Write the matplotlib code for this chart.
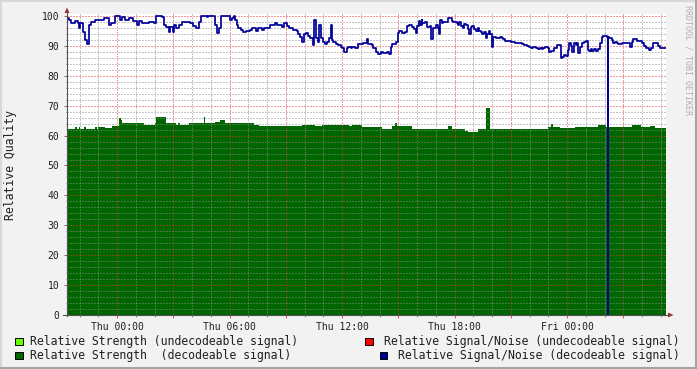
# RRDtool style "Relative Quality" graph

import matplotlib.pyplot as plt
from matplotlib.patches import Rectangle, Polygon
from matplotlib.lines import Line2D

plt.rcParams['font.family'] = 'DejaVu Sans Mono'

# time axis: hours relative to Thu 00:00, graph runs Wed 21:20 .. Fri 05:17
t_start = -8 / 3
t_end = 29.28

# Relative Signal/Noise (decodeable signal), step breakpoints
snr_t = [-2.67, -2.58, -2.44, -2.22, -2.08, -2.01, -1.96, -1.83, -1.72, -1.60,
         -1.48, -1.39, -1.16, -0.98, -0.71, -0.44, -0.30, -0.12, 0.18, 0.27,
         0.41, 0.62, 0.84, 1.07, 1.19, 1.33, 1.69, 1.96, 2.08, 2.40,
         2.49, 2.61, 2.76, 2.84, 2.99, 3.02, 3.15, 3.29, 3.47, 3.89,
         4.07, 4.21, 4.37, 4.46, 4.78, 4.87, 5.23, 5.32, 5.46, 5.53,
         6.03, 6.12, 6.24, 6.29, 6.38, 6.47, 6.61, 6.74, 6.86, 7.09,
         7.18, 7.40, 7.50, 7.72, 7.86, 8.16, 8.43, 8.52, 8.78, 8.92,
         9.05, 9.17, 9.40, 9.58, 9.67, 9.76, 9.88, 9.97, 10.06, 10.20,
         10.29, 10.47, 10.52, 10.60, 10.74, 10.79, 10.86, 11.00, 11.09, 11.18,
         11.31, 11.40, 11.45, 11.54, 11.66, 11.80, 11.93, 12.02, 12.12, 12.25,
         12.34, 12.48, 12.55, 12.69, 12.87, 13.14, 13.32, 13.40, 13.58, 13.67,
         13.80, 13.94, 14.08, 14.20, 14.38, 14.51, 14.61, 14.68, 14.86, 14.97,
         15.06, 15.18, 15.36, 15.45, 15.57, 15.75, 15.86, 15.93, 16.02, 16.11,
         16.16, 16.25, 16.28, 16.43, 16.52, 16.69, 16.75, 16.87, 17.00, 17.10,
         17.17, 17.23, 17.32, 17.40, 17.64, 17.85, 17.94, 18.12, 18.20, 18.26,
         18.35, 18.44, 18.52, 18.60, 18.70, 18.79, 18.86, 18.95, 19.06, 19.13,
         19.24, 19.32, 19.40, 19.48, 19.59, 19.66, 19.75, 19.84, 19.91, 19.98,
         20.07, 20.20, 20.43, 20.52, 20.60, 20.69, 21.01, 21.23, 21.40, 21.49,
         21.58, 21.72, 21.85, 21.97, 22.08, 22.20, 22.33, 22.47, 22.56, 22.65,
         22.74, 22.83, 22.97, 23.04, 23.15, 23.32, 23.45, 23.66, 23.72, 23.86,
         23.93, 24.04, 24.12, 24.21, 24.28, 24.37, 24.46, 24.55, 24.60, 24.69,
         24.78, 24.92, 25.00, 25.14, 25.19, 25.28, 25.35, 25.46, 25.55, 25.67,
         25.76, 25.85, 25.94, 26.12, 26.17, 26.20, 26.24, 26.38, 26.47, 26.56,
         26.65, 26.74, 26.92, 27.04, 27.36, 27.45, 27.54, 27.72, 27.98, 28.12,
         28.21, 28.37, 28.48, 28.60, 28.73, 28.87, 28.96]
snr_v = [99.2, 98.7, 97.8, 98.3, 97.8, 95.9, 97.8, 94.5, 92.0, 90.5,
         97.0, 98.1, 98.6, 98.8, 99.2, 97.0, 97.8, 100.0, 98.7, 99.5,
         98.7, 99.2, 98.4, 97.0, 98.4, 97.8, 98.1, 97.8, 100.0, 99.7,
         97.0, 96.4, 94.7, 96.4, 94.7, 97.0, 95.9, 97.0, 98.1, 97.6,
         96.7, 95.9, 98.1, 100.0, 99.8, 100.0, 97.0, 94.2, 95.9, 100.0,
         98.7, 99.2, 100.0, 98.7, 97.0, 95.9, 95.4, 94.5, 95.0, 95.4,
         96.0, 95.0, 96.0, 95.4, 96.0, 97.1, 97.8, 97.1, 96.4, 97.6,
         96.7, 96.0, 95.4, 95.0, 93.9, 92.9, 91.4, 93.9, 94.4, 93.4,
         92.5, 90.3, 98.7, 92.5, 91.4, 97.0, 92.5, 91.4, 90.5, 91.4,
         92.5, 97.0, 92.0, 91.4, 90.8, 90.3, 89.7, 89.2, 88.1, 89.2,
         89.7, 89.2, 89.7, 89.2, 90.8, 91.1, 92.2, 90.8, 90.3, 89.2,
         88.1, 87.2, 88.1, 87.6, 88.1, 87.2, 89.7, 90.8, 91.4, 94.2,
         95.0, 94.4, 94.7, 96.6, 97.0, 96.4, 95.5, 94.4, 96.6, 98.3,
         97.0, 98.7, 97.6, 98.1, 96.4, 96.7, 92.2, 95.9, 97.0, 95.9,
         94.0, 98.7, 97.6, 98.1, 99.2, 98.3, 98.1, 97.8, 97.0, 98.1,
         96.7, 95.9, 97.3, 97.0, 95.5, 94.0, 96.4, 96.7, 95.5, 95.1,
         95.9, 95.1, 94.8, 94.0, 94.8, 92.5, 94.0, 95.1, 94.0, 89.7,
         93.1, 92.5, 93.1, 92.5, 92.2, 91.7, 91.4, 91.1, 90.9, 91.1,
         90.6, 90.3, 90.0, 89.5, 89.2, 89.5, 89.2, 88.9, 89.2, 88.9,
         89.4, 89.7, 89.2, 88.1, 88.4, 89.2, 90.3, 85.8, 86.2, 87.0,
         86.6, 88.6, 90.9, 90.0, 88.1, 91.1, 90.3, 91.1, 87.5, 89.7,
         90.9, 91.4, 91.7, 88.6, 88.4, 88.9, 88.4, 88.9, 88.4, 88.9,
         90.9, 92.9, 93.3, 92.9, 0.0, 92.9, 92.5, 92.0, 90.9, 91.4,
         90.9, 90.6, 91.1, 90.9, 89.5, 91.4, 92.2, 91.7, 91.1, 90.0,
         89.2, 88.6, 89.2, 90.9, 91.1, 90.0, 89.2]

# Relative Strength (decodeable signal), step breakpoints
str_t = [-2.67, -2.24, -2.16, -2.03, -1.97, -1.76, -1.68, -1.17, -1.09, -1.01,
         -0.64, -0.27, 0.12, 0.20, 0.27, 1.42, 2.03, 2.08, 2.61, 3.02,
         3.15, 3.25, 3.38, 3.82, 4.62, 4.71, 5.23, 5.51, 5.78, 6.76,
         7.29, 7.55, 9.87, 10.58, 10.93, 12.36, 12.53, 13.07, 14.12, 14.65,
         14.83, 14.92, 15.72, 17.67, 17.85, 18.56, 18.74, 19.27, 19.68, 19.89,
         21.49, 22.99, 23.15, 23.25, 23.63, 24.43, 25.65, 26.08, 27.47, 27.95,
         28.43, 28.69]
str_v = [62.1, 63.0, 62.1, 62.8, 62.1, 62.8, 62.1, 63.0, 62.1, 62.8,
         62.4, 63.2, 65.8, 65.2, 64.1, 63.5, 64.1, 66.3, 64.1, 64.3,
         63.5, 64.3, 63.5, 64.1, 66.3, 64.1, 64.5, 65.2, 64.1, 64.3,
         63.5, 63.2, 63.5, 63.2, 63.5, 63.2, 63.5, 63.0, 62.1, 63.2,
         64.1, 63.2, 62.1, 63.2, 62.1, 61.7, 61.3, 62.1, 69.1, 62.1,
         62.3, 62.8, 64.0, 62.8, 62.5, 62.8, 63.5, 62.8, 63.4, 62.8,
         63.2, 62.5]

x_ticks = [0, 3, 6, 9, 12, 15, 18, 21, 24, 27]
x_labels = ['Thu 00:00', '', 'Thu 06:00', '', 'Thu 12:00', '',
            'Thu 18:00', '', 'Fri 00:00', '']

legend_left = ['Relative Strength (undecodeable signal)',
               'Relative Strength  (decodeable signal)']
legend_right = ['Relative Signal/Noise (undecodeable signal)',
                'Relative Signal/Noise (decodeable signal)']
colors_left = ['#66ff00', '#006600']
colors_right = ['#ff0000', '#000099']

W, H = 697, 369


def fx(px):
    return px / W


def fy(py):
    return 1 - py / H


fig = plt.figure(figsize=(W / 100, H / 100), dpi=100, facecolor='#f2f2f2')
ax = fig.add_axes([fx(67), fy(315), 599 / W, 301 / H])
ax.set_facecolor('white')

# data
st = str_t + [t_end]
sv = str_v + [str_v[-1]]
ax.fill_between(st, 0, sv, step='post', color='#006600', lw=0, zorder=1)
nt = snr_t + [t_end]
nv = snr_v + [snr_v[-1]]
ax.step(nt, nv, where='post', color='#000099', lw=1.25, zorder=4)

ax.set_xlim(t_start, t_start + 599 / 18.75)
ax.set_ylim(0, 301 / 2.99)

ax.set_xticks(x_ticks)
ax.set_xticklabels(x_labels)
ax.set_xticks(range(-2, 30), minor=True)
ax.set_yticks(range(0, 101, 10))
ax.set_yticks(range(0, 101, 2), minor=True)

ax.set_axisbelow(False)
ax.grid(which='major', color=(0.9, 0.2, 0.2, 0.55), linestyle=(0, (1, 2)), lw=0.72)
ax.grid(which='minor', color=(0.55, 0.55, 0.55, 0.45), linestyle=(0, (1, 2)), lw=0.72)

for s in ax.spines.values():
    s.set_visible(False)

ax.tick_params(axis='x', which='major', length=2.2, width=0.72, color='#e05050',
               pad=2.5, labelsize=7, labelcolor='#202020')
ax.tick_params(axis='x', which='minor', length=1.2, width=0.72, color='#909090')
ax.tick_params(axis='y', which='major', length=2.2, width=0.72, color='#707070',
               pad=3.2, labelsize=7, labelcolor='#202020')
ax.tick_params(axis='y', which='minor', length=1.0, width=0.72, color='#909090')

# axis lines with arrows
fig.add_artist(Line2D([fx(67), fx(67)], [fy(316), fy(12)], color='#505050', lw=0.8))
fig.add_artist(Line2D([fx(63), fx(669)], [fy(315), fy(315)], color='#505050', lw=0.8))
fig.add_artist(Polygon([(fx(64.5), fy(13)), (fx(69.5), fy(13)), (fx(67), fy(7.5))],
                       closed=True, color='#a03030', lw=0))
fig.add_artist(Polygon([(fx(668), fy(312.5)), (fx(668), fy(317.5)), (fx(673.5), fy(315))],
                       closed=True, color='#a03030', lw=0))

# titles / labels
fig.text(fx(11), fy(165), 'Relative Quality', rotation=90, ha='center', va='center',
         fontsize=8.3, color='#202020')
fig.text(fx(688), fy(60), 'RRDTOOL / TOBI OETIKER', rotation=270, ha='center',
         va='center', fontsize=6, color='#b0b0b0')

# legend
rows_y = [341, 355]
for i in range(2):
    y = rows_y[i]
    fig.add_artist(Rectangle((fx(15), fy(y + 4)), 7.5 / W, 7.5 / H,
                             facecolor=colors_left[i], edgecolor='black', lw=0.7))
    fig.text(fx(30), fy(y), legend_left[i], ha='left', va='center',
             fontsize=8.3, color='#202020')
right_sq = [365, 379.5]
for i in range(2):
    y = rows_y[i]
    fig.add_artist(Rectangle((fx(right_sq[i]), fy(y + 4)), 7.5 / W, 7.5 / H,
                             facecolor=colors_right[i], edgecolor='black', lw=0.7))
    fig.text(fx(680), fy(y), legend_right[i], ha='right', va='center',
             fontsize=8.3, color='#202020')

# 3d frame
fig.add_artist(Line2D([0, 1], [fy(0.5), fy(0.5)], color='#d8d8d8', lw=1.5))
fig.add_artist(Line2D([fx(0.5), fx(0.5)], [0, 1], color='#d8d8d8', lw=1.5))
fig.add_artist(Line2D([0, 1], [fy(367.5), fy(367.5)], color='#a4a4a4', lw=2.2))
fig.add_artist(Line2D([fx(695.5), fx(695.5)], [0, 1], color='#a4a4a4', lw=2.2))

fig.savefig('out.png', dpi=100, facecolor=fig.get_facecolor())
